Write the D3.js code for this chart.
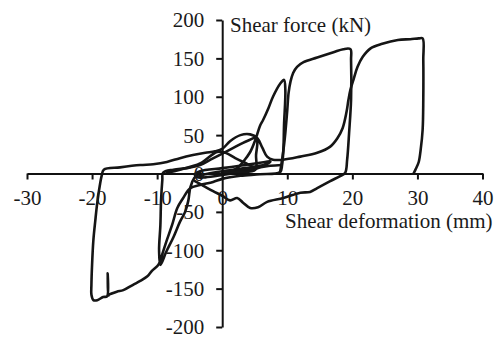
<!DOCTYPE html>
<html><head><meta charset="utf-8">
<script src="https://cdn.jsdelivr.net/npm/d3@7/dist/d3.min.js"></script>
<style>
body{margin:0;background:#fff;}
</style></head>
<body><svg id="c" width="502" height="338"></svg>
<script>
// ---- data (deformation in mm, shear force in kN) ----
const xTicks = [-30, -20, -10, 0, 10, 20, 30, 40];
const yTicks = [-200, -150, -100, -50, 0, 50, 100, 150, 200];
const xTitle = "Shear deformation (mm)";
const yTitle = "Shear force (kN)";

// small initial cycles
const smallDefo  = [0, 2.8, 5.1, 6.2, 5.5, 2.8, 0, -2.6, -3.8, -4.2, -3.4, 0, 3.5, 6.6, 7.4, 6.8, 3.5, 0, -2.6, -3.5, -3.4];
const smallForce = [1, 5, 8, 11, 7, 2, -2, -5, -5, -1, 3, 7, 11, 15, 16, 12, 7, 3, -1, -3, 1];

// -10 / +5 / +10 / -20 / +30 history
const mainDefo = [-3.4, -4.3, -4.9, -5.2, -5.7, -6.5, -7.5, -8.6, -9.5, -9.7, -9.5, -9.4, -9.2, -9.1,
  -7.5, -5.4, -3.4, -1.8, 1.2, 3.2, 4.8, 5.2, 5.4, 5.2, 5.1, 2.8, 1.2, 2.3, 3.2, 4.3, 5.1, 5.8,
  6.3, 7.1, 7.8, 8.9, 9.5, 9.7, 9.5, 9.4, 9.2, 8.9, 5.8, 2.8, 0, -1.4, -3.4, -4.9, -6.0, -6.9,
  -7.7, -8.6, -9.4, -9.8, -10.8, -11.5, -12.6, -13.7, -15.2, -16.2, -17.4, -17.5, -17.6, -17.7,
  -18.3, -19.2, -19.8, -20.1, -20.1, -20.0, -19.8, -19.5, -19.2, -18.8, -18.5, -18.2, -15.7,
  -12.6, -10.6, -8.5, -6.5, -4.5, -2.6, -1.1, 0, 1.2, 2.8, 4.3, 5.4, 6.2, 6.9, 7.8, 9.4, 12.0,
  14.6, 16.6, 17.7, 18.5, 19.1, 19.4, 19.7, 20.2, 20.8, 21.6, 22.8, 24.6, 27.0, 28.9, 30.2,
  30.8, 30.9, 30.9, 30.8, 30.5, 30.2, 29.7, 29.4];
const mainForce = [1, -6, -18, -35, -50, -63, -83, -102, -119, -100, -67, -35, -8, 1,
  5, 7, 11, 18, 31, 40, 46, 48, 41, 24, 5, 2, 2, 7, 15, 28, 44, 62,
  70, 85, 100, 117, 122, 109, 63, 31, 11, 2, -1, -3, -7, -11, -15, -19, -32, -45,
  -67, -89, -110, -119, -127, -134, -140, -145, -152, -154, -158, -159, -130, -160,
  -161, -165, -165, -158, -145, -119, -87, -61, -38, -15, -2, 5, 8,
  11, 12, 15, 20, 24, 27, 29, 32, 42, 50, 51, 46, 33, 22, 18, 18, 22,
  27, 35, 46, 59, 80, 96, 109, 123, 139, 152, 163, 169, 174, 175, 176,
  176, 148, 96, 57, 31, 15, 5, 0];

// +20 cycle and unloading towards the negative side
const c20Defo  = [8.9, 9.2, 9.5, 9.7, 10.0, 10.2, 10.5, 10.9, 11.5, 12.5, 14.6, 17.1, 18.6, 19.7,
  19.8, 19.8, 19.5, 19.2, 18.9, 18.2, 16.6, 14.6, 13.5, 12.0, 9.4, 6.9, 5.5, 4.3, 3.2, 2.3, 1.2,
  0, -1.4, -2.9, -4.2];
const c20Force = [2, 18, 37, 53, 83, 105, 120, 131, 139, 145, 151, 158, 162, 162,
  148, 96, 53, 18, 1, -3, -10, -19, -24, -25, -32, -37, -44, -45, -38, -32, -35,
  -29, -23, -16, -10];

// additional low-force branch near the origin
const lowDefo  = [-8.5, -6.5, -3.4, -0.8, 0.5, 2.0, 3.5, 5.1, 7.4, 9.1];
const lowForce = [1, 5, 13, 28, 27, 20, 14, 8, 10, 11];

const series = [
  {d: smallDefo, f: smallForce},
  {d: mainDefo, f: mainForce},
  {d: c20Defo, f: c20Force},
  {d: lowDefo, f: lowForce}
];

// ---- pick an installed Times-like font, else a sans fallback ----
function pickFont() {
  const cands = ["Liberation Serif", "Tinos", "Times New Roman", "Times", "Nimbus Roman", "FreeSerif", "Noto Serif", "DejaVu Serif"];
  const ctx = document.createElement("canvas").getContext("2d");
  const s = "Shear deformation (mm) 0123456789";
  const w = f => { ctx.font = "40px " + f; return ctx.measureText(s).width; };
  const wm = w("monospace");
  for (const c of cands) {
    const a = w(`"${c}", monospace`), b = w(`"${c}", sans-serif`);
    if (Math.abs(a - b) < 0.01 && Math.abs(a - wm) > 0.01) return `"${c}", serif`;
  }
  return '"Liberation Sans", Arial, sans-serif';
}
const FONT = pickFont();
const FS = "21px";

// ---- chart ----
const svg = d3.select("#c");
const x = d3.scaleLinear().domain([-30, 40]).range([27, 482.5]);
const y = d3.scaleLinear().domain([-200, 200]).range([327, 20]);

const line = d3.line().x(p => x(p[0])).y(p => y(p[1])).curve(d3.curveCatmullRom.alpha(0.5));

svg.append("g").selectAll("path").data(series).join("path")
  .attr("d", s => line(s.d.map((v, i) => [v, s.f[i]])))
  .attr("fill", "none").attr("stroke", "#151515").attr("stroke-width", 2.6)
  .attr("stroke-linejoin", "round").attr("stroke-linecap", "round");

const fmt = d => d < 0 ? "-" + Math.abs(d) : String(d);

// x axis through y=0
const gx = svg.append("g").attr("transform", `translate(0,${y(0)})`)
  .call(d3.axisBottom(x).tickValues(xTicks).tickSize(6).tickSizeOuter(0));
gx.select(".domain").attr("stroke", "#111").attr("stroke-width", 2);
gx.selectAll(".tick line").attr("stroke", "#111").attr("stroke-width", 2);
gx.selectAll(".tick text").attr("y", 31.5).attr("dy", 0)
  .style("font-family", FONT).style("font-size", FS).attr("fill", "#1a1a1a").text(fmt);

// y axis through x=0
const gy = svg.append("g").attr("transform", `translate(${x(0)},0)`)
  .call(d3.axisLeft(y).tickValues(yTicks).tickSize(6).tickSizeOuter(0));
gy.select(".domain").attr("stroke", "#111").attr("stroke-width", 2);
gy.selectAll(".tick line").attr("stroke", "#111").attr("stroke-width", 2);
gy.selectAll(".tick text").attr("x", -18).attr("dy", "0.33em")
  .style("font-family", FONT).style("font-size", FS).attr("fill", "#1a1a1a").text(fmt);

svg.append("text").attr("x", 230).attr("y", 32).text(yTitle)
  .style("font-family", FONT).style("font-size", FS).attr("fill", "#1a1a1a");
svg.append("text").attr("x", 285).attr("y", 228).text(xTitle)
  .style("font-family", FONT).style("font-size", FS).attr("fill", "#1a1a1a");
</script></body></html>
